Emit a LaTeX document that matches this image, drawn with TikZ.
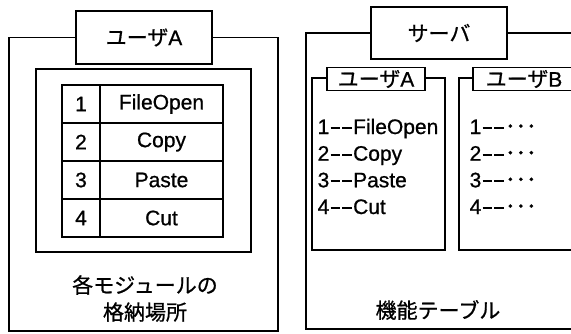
\documentclass[tikz,border=0pt]{standalone}
\usepackage{fontspec}
\setmainfont{Liberation Sans}[FakeBold=0.8]
\newfontfamily\cjk{Noto Sans CJK JP}[FakeBold=0.8]
\newcommand\hy{\hspace{1.2pt}\rule[5pt]{9.5pt}{1.9pt}\hspace{1.2pt}}
\begin{document}
\begin{tikzpicture}[x=1pt,y=-1pt,line width=1.3pt,
  every node/.style={font=\fontsize{21}{25}\selectfont, inner sep=0pt},
  titlebox/.style={draw, fill=white, minimum width=136pt, minimum height=53pt},
  labelbox/.style={draw, fill=white, minimum width=98pt, minimum height=23pt},
  framebox/.style={draw},
  numcell/.style={draw, minimum width=38pt, minimum height=38pt},
  namecell/.style={draw, minimum width=123pt, minimum height=38pt},
  entry/.style={anchor=base west}]
\clip (0,0) rectangle (571,333);
% ---------- left panel ----------
\node[titlebox] (tA) at (144,37.5) {{\cjk ユーザ}A};
\draw (tA.west) -| (9,331) -| (278,37.5) -- (tA.east);
\node[framebox, minimum width=215pt, minimum height=183pt] (inA) at (143.5,160.5) {};
\node[numcell]  (n1) at (81,104) {1};
\node[namecell] (f1) at (161.5,104) {FileOpen};
\node[numcell]  (n2) at (81,142) {2};
\node[namecell] (f2) at (161.5,142) {Copy};
\node[numcell]  (n3) at (81,180) {3};
\node[namecell] (f3) at (161.5,180) {Paste};
\node[numcell]  (n4) at (81,218) {4};
\node[namecell] (f4) at (161.5,218) {Cut};
\node[align=center, font=\fontsize{21}{27}\selectfont\cjk] (capA) at (145,298.5) {各モジュールの\\格納場所};
% ---------- right panel ----------
\node[titlebox, minimum height=52pt] (tS) at (439,33) {\cjk サーバ};
\draw (tS.west) -| (306,329) -- (600,329);
\draw (tS.east) -- (600,33);
\node[framebox, minimum width=133pt, minimum height=172pt] (bA) at (378.5,164) {};
\node[labelbox] (lA) at (376,79) {{\cjk ユーザ}A};
\node[framebox, minimum width=161pt, minimum height=172pt] (bB) at (539.5,164) {};
\node[labelbox, minimum width=102pt] (lB) at (524,79) {{\cjk ユーザ}B};
\node[entry] (a1) at (317,134) {1\hy\hy FileOpen};
\node[entry] (a2) at (317,160.7) {2\hy\hy Copy};
\node[entry] (a3) at (317,187.3) {3\hy\hy Paste};
\node[entry] (a4) at (317,214) {4\hy\hy Cut};
\node[entry] (b1) at (469,134) {1\hy\hy{\cjk ･･･}};
\node[entry] (b2) at (469,160.7) {2\hy\hy{\cjk ･･･}};
\node[entry] (b3) at (469,187.3) {3\hy\hy{\cjk ･･･}};
\node[entry] (b4) at (469,214) {4\hy\hy{\cjk ･･･}};
\node[font=\fontsize{21}{25}\selectfont\cjk] (capS) at (438,310) {機能テーブル};
\end{tikzpicture}
\end{document}
